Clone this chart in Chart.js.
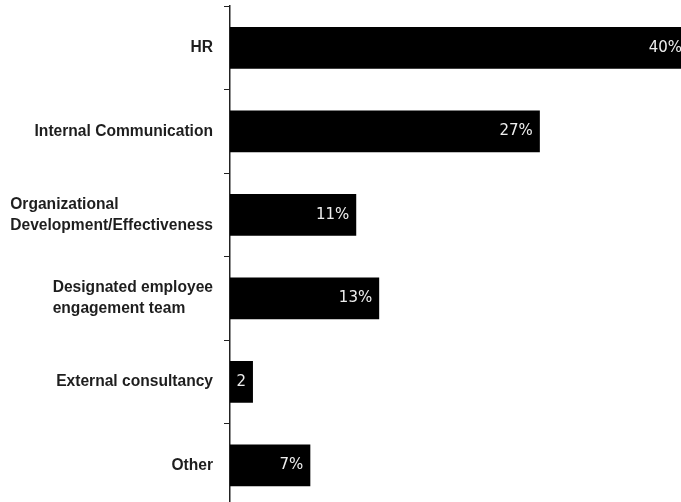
<!DOCTYPE html>
<html>
<head>
<meta charset="utf-8">
<script src="https://cdn.jsdelivr.net/npm/chart.js@4"></script>
<style>
  html, body { margin: 0; padding: 0; background: #fff; overflow: hidden; }
  /* a little taller than the window so the last band runs past the bottom edge */
  #wrap { width: 681px; height: 507px; }
</style>
</head>
<body>
<div id="wrap"><canvas id="chart"></canvas></div>
<script>
// who owns employee engagement, share of responses
const categories = [
  ["HR"],
  ["Internal Communication"],
  ["Organizational", "Development/Effectiveness"],
  ["Designated employee", "engagement team"],
  ["External consultancy"],
  ["Other"]
];
const shares = [40, 27, 11, 13, 2, 7];
const valueLabels = ["40%", "27%", "11%", "13%", "2", "7%"];

// category names drawn left-aligned as a block, block right-aligned next to the axis
const categoryLabels = {
  id: "categoryLabels",
  afterDraw(chart) {
    const ctx = chart.ctx;
    const yScale = chart.scales.y;
    const rightEdge = yScale.right - 17;
    const lineHeight = 21;
    ctx.save();
    ctx.font = "bold 15.6px 'Liberation Sans', Arial, sans-serif";
    ctx.fillStyle = "#1e1e1e";
    ctx.textAlign = "left";
    ctx.textBaseline = "middle";
    categories.forEach((lines, i) => {
      const blockWidth = Math.max(...lines.map((l) => ctx.measureText(l).width));
      const x = rightEdge - blockWidth;
      const yMid = yScale.getPixelForValue(i);
      lines.forEach((line, j) => {
        ctx.fillText(line, x, yMid + (j - (lines.length - 1) / 2) * lineHeight);
      });
    });
    ctx.restore();
  }
};

// white value text just inside the end of each bar
const barValues = {
  id: "barValues",
  afterDatasetsDraw(chart) {
    const ctx = chart.ctx;
    const meta = chart.getDatasetMeta(0);
    ctx.save();
    ctx.font = "15px 'DejaVu Sans', sans-serif";
    ctx.fillStyle = "#eeeeee";
    ctx.textAlign = "right";
    ctx.textBaseline = "middle";
    meta.data.forEach((bar, i) => {
      ctx.fillText(valueLabels[i], bar.x - 7, bar.y);
    });
    ctx.restore();
  }
};

const ctx = document.getElementById("chart").getContext("2d");
new Chart(ctx, {
  type: "bar",
  data: {
    labels: categories,
    datasets: [
      {
        data: shares,
        backgroundColor: "#000",
        borderWidth: 0,
        barPercentage: 0.5,
        categoryPercentage: 1
      }
    ]
  },
  options: {
    indexAxis: "y",
    responsive: true,
    maintainAspectRatio: false,
    animation: false,
    layout: { padding: { top: 6, bottom: 0, left: 0, right: 0 } },
    plugins: {
      legend: { display: false },
      tooltip: { enabled: false }
    },
    scales: {
      x: { display: false, min: 0, max: 39.3 },
      y: {
        grid: {
          drawOnChartArea: false,
          drawTicks: true,
          tickLength: 6,
          color: "#222"
        },
        border: { color: "#222", width: 1.5 },
        ticks: { display: false },
        afterFit(scale) {
          scale.width = 230;
        }
      }
    }
  },
  plugins: [categoryLabels, barValues]
});
</script>
</body>
</html>
